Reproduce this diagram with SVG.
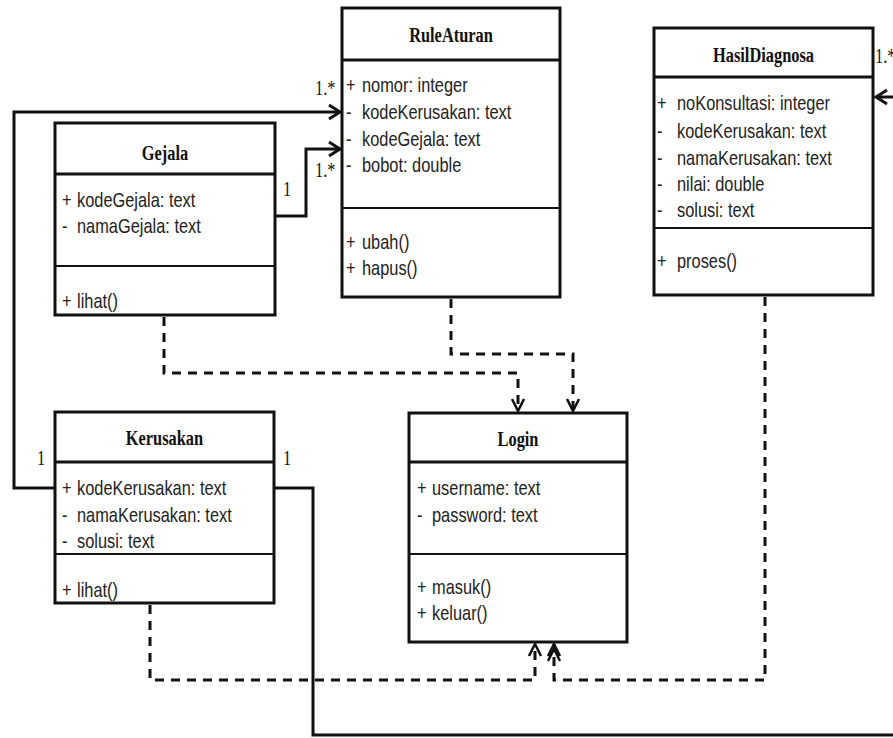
<svg xmlns="http://www.w3.org/2000/svg" width="893" height="738" viewBox="0 0 893 738">
<style>
.box{fill:#fff;stroke:#111;stroke-width:3}
.hd{stroke:#111;stroke-width:3}
.md{stroke:#111;stroke-width:2}
.t{font-family:"Liberation Sans",Arial,sans-serif;font-size:20px;fill:#222}
.ti{font-family:"Liberation Serif","Times New Roman",serif;font-size:20px;font-weight:bold;fill:#111;text-anchor:middle}
.lb{font-family:"Liberation Serif","Times New Roman",serif;font-size:20px;fill:#111}
.sol{fill:none;stroke:#111;stroke-width:3}
.thin{fill:none;stroke:#111;stroke-width:2}
.dash{fill:none;stroke:#111;stroke-width:3;stroke-dasharray:9 7}
</style>
<defs>
<marker id="arr" viewBox="-13 -9 15 18" refX="0" refY="0" markerWidth="15" markerHeight="18" markerUnits="userSpaceOnUse" orient="auto">
<path d="M-11,-7 L0,0 L-11,7" fill="none" stroke="#111" stroke-width="3"/>
</marker>
<marker id="dep" viewBox="-14 -8 16 16" refX="0" refY="0" markerWidth="16" markerHeight="16" markerUnits="userSpaceOnUse" orient="auto">
<path d="M-12,-6 L0,0 L-12,6" fill="none" stroke="#111" stroke-width="2.5"/>
</marker>
<marker id="dep2" viewBox="-20 -8 22 16" refX="0" refY="0" markerWidth="22" markerHeight="16" markerUnits="userSpaceOnUse" orient="auto">
<path d="M-12,-6 L0,0 L-12,6 M-17,-6 L-5,0 L-17,6" fill="none" stroke="#111" stroke-width="2.5"/>
</marker>
</defs>
<rect width="893" height="738" fill="#fff"/>

<g id="connectors">
<path class="sol" d="M55,488 H14 V112 H340" marker-end="url(#arr)"/>
<path class="sol" d="M275,216 H306 V149 H340" marker-end="url(#arr)"/>
<path class="sol" d="M274,488 H313 V735 H905 V97 H876" marker-end="url(#arr)"/>
<path class="dash" d="M164,317 V373 H518 V411" marker-end="url(#dep)"/>
<path class="dash" d="M451,299 V354 H573 V411" marker-end="url(#dep)"/>
<path class="dash" d="M150,605 V680 H535 V644" marker-end="url(#dep)"/>
<path class="dash" d="M765,297 V680 H554 V644" marker-end="url(#dep2)"/>
<g transform="scale(0.82 1)">
<text class="lb" x="384.15" y="95">1.*</text>
<text class="lb" x="384.15" y="177">1.*</text>
<text class="lb" x="345.12" y="196">1</text>
<text class="lb" x="45.12" y="465">1</text>
<text class="lb" x="345.12" y="465">1</text>
<text class="lb" x="1067.07" y="63">1.*</text>
</g>
</g>

<g id="RuleAturan">
<rect class="box" x="342" y="8" width="218" height="289"/>
<line class="hd" x1="342" y1="60" x2="560" y2="60"/>
<line class="md" x1="342" y1="208" x2="560" y2="208"/>
<g transform="scale(0.82 1)">
<text class="ti" x="550" y="42">RuleAturan</text>
<text class="t" y="92"><tspan x="421.95">+</tspan><tspan x="441.46">nomor: integer</tspan></text>
<text class="t" y="119"><tspan x="421.95">-</tspan><tspan x="441.46">kodeKerusakan: text</tspan></text>
<text class="t" y="146"><tspan x="421.95">-</tspan><tspan x="441.46">kodeGejala: text</tspan></text>
<text class="t" y="172"><tspan x="421.95">-</tspan><tspan x="441.46">bobot: double</tspan></text>
<text class="t" y="249"><tspan x="421.95">+</tspan><tspan x="441.46">ubah()</tspan></text>
<text class="t" y="275"><tspan x="421.95">+</tspan><tspan x="441.46">hapus()</tspan></text>
</g>
</g>

<g id="HasilDiagnosa">
<rect class="box" x="654" y="28" width="219" height="267"/>
<line class="hd" x1="654" y1="77" x2="873" y2="77"/>
<line class="md" x1="654" y1="228" x2="873" y2="228"/>
<g transform="scale(0.82 1)">
<text class="ti" x="931.1" y="62">HasilDiagnosa</text>
<text class="t" y="110"><tspan x="801.22">+</tspan><tspan x="825.61">noKonsultasi: integer</tspan></text>
<text class="t" y="138"><tspan x="801.22">-</tspan><tspan x="825.61">kodeKerusakan: text</tspan></text>
<text class="t" y="165"><tspan x="801.22">-</tspan><tspan x="825.61">namaKerusakan: text</tspan></text>
<text class="t" y="191"><tspan x="801.22">-</tspan><tspan x="825.61">nilai: double</tspan></text>
<text class="t" y="217"><tspan x="801.22">-</tspan><tspan x="825.61">solusi: text</tspan></text>
<text class="t" y="268"><tspan x="801.22">+</tspan><tspan x="825.61">proses()</tspan></text>
</g>
</g>

<g id="Gejala">
<rect class="box" x="55" y="123" width="220" height="192"/>
<line class="hd" x1="55" y1="174" x2="275" y2="174"/>
<line class="md" x1="55" y1="266" x2="275" y2="266"/>
<g transform="scale(0.82 1)">
<text class="ti" x="201.22" y="160">Gejala</text>
<text class="t" y="207"><tspan x="75.61">+</tspan><tspan x="93.9">kodeGejala: text</tspan></text>
<text class="t" y="233"><tspan x="75.61">-</tspan><tspan x="93.9">namaGejala: text</tspan></text>
<text class="t" y="308"><tspan x="75.61">+</tspan><tspan x="93.9">lihat()</tspan></text>
</g>
</g>

<g id="Kerusakan">
<rect class="box" x="55" y="412" width="219" height="191"/>
<line class="hd" x1="55" y1="462" x2="274" y2="462"/>
<line class="md" x1="55" y1="554" x2="274" y2="554"/>
<g transform="scale(0.82 1)">
<text class="ti" x="200.61" y="445">Kerusakan</text>
<text class="t" y="495"><tspan x="75.61">+</tspan><tspan x="93.9">kodeKerusakan: text</tspan></text>
<text class="t" y="522"><tspan x="75.61">-</tspan><tspan x="93.9">namaKerusakan: text</tspan></text>
<text class="t" y="548"><tspan x="75.61">-</tspan><tspan x="93.9">solusi: text</tspan></text>
<text class="t" y="597"><tspan x="75.61">+</tspan><tspan x="93.9">lihat()</tspan></text>
</g>
</g>

<g id="Login">
<rect class="box" x="409" y="413" width="218" height="229"/>
<line class="hd" x1="409" y1="462" x2="627" y2="462"/>
<line class="md" x1="409" y1="554" x2="627" y2="554"/>
<g transform="scale(0.82 1)">
<text class="ti" x="631.71" y="446">Login</text>
<text class="t" y="495"><tspan x="508.54">+</tspan><tspan x="526.83">username: text</tspan></text>
<text class="t" y="522"><tspan x="508.54">-</tspan><tspan x="526.83">password: text</tspan></text>
<text class="t" y="594"><tspan x="508.54">+</tspan><tspan x="526.83">masuk()</tspan></text>
<text class="t" y="620"><tspan x="508.54">+</tspan><tspan x="526.83">keluar()</tspan></text>
</g>
</g>
</svg>
